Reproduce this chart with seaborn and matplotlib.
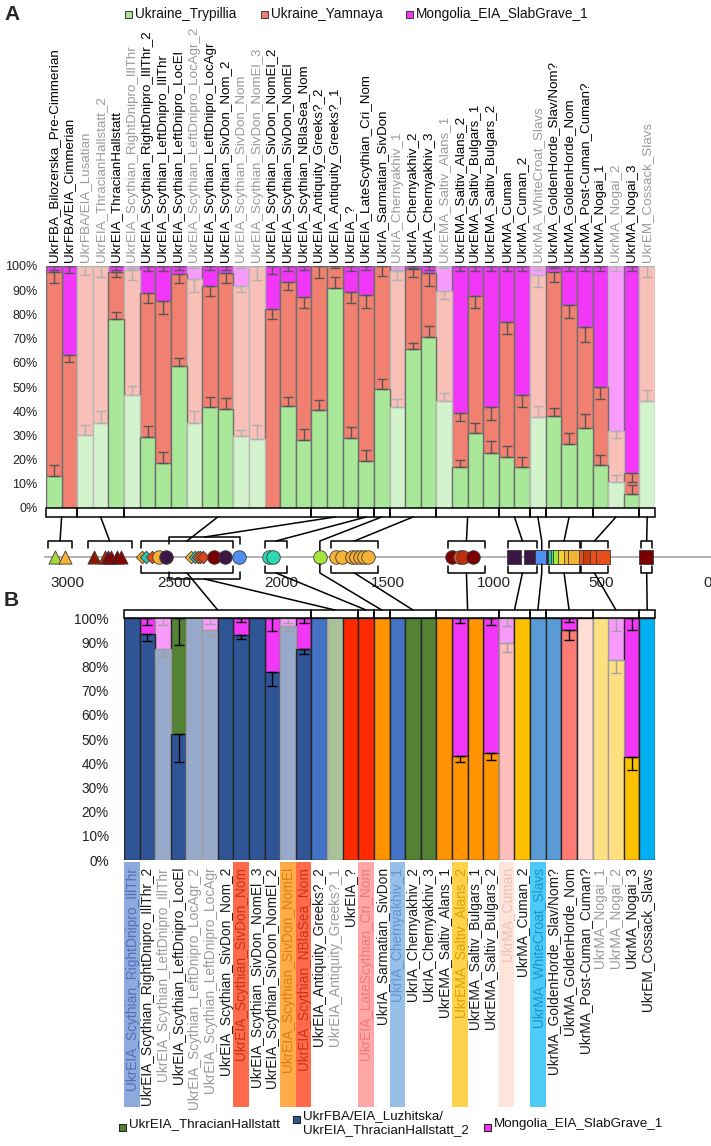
import numpy as np
import pandas as pd
import matplotlib
matplotlib.use("Agg")
import matplotlib.pyplot as plt
import seaborn as sns
from matplotlib.patches import Rectangle
from matplotlib.ticker import MultipleLocator, FuncFormatter
import matplotlib.colors as mcolors

# ======================= DATA =======================
# ---- Panel A : three-way qpAdm proportions (%) ----
a_pops = ["UkrFBA_Bilozerska_Pre-Cimmerian", "UkrFBA/EIA_Cimmerian", "UkrFBA/EIA_Lusatian",
          "UkrEIA_ThracianHallstatt_2", "UkrEIA_ThracianHallstatt", "UkrEIA_Scythian_RightDnipro_IllThr",
          "UkrEIA_Scythian_RightDnipro_IllThr_2", "UkrEIA_Scythian_LeftDnipro_IllThr",
          "UkrEIA_Scythian_LeftDnipro_LocEl", "UkrEIA_Scythian_LeftDnipro_LocAgr_2",
          "UkrEIA_Scythian_LeftDnipro_LocAgr", "UkrEIA_Scythian_SivDon_Nom_2", "UkrEIA_Scythian_SivDon_Nom",
          "UkrEIA_Scythian_SivDon_NomEl_3", "UkrEIA_Scythian_SivDon_NomEl_2", "UkrEIA_Scythian_SivDon_NomEl",
          "UkrEIA_Scythian_NBlaSea_Nom", "UkrEIA_Antiquity_Greeks?_2", "UkrEIA_Antiquity_Greeks?_1",
          "UkrEIA_?", "UkrEIA_LateScythian_Cri_Nom", "UkrIA_Sarmatian_SivDon", "UkrIA_Chernyakhiv_1",
          "UkrIA_Chernyakhiv_2", "UkrIA_Chernyakhiv_3", "UkrEMA_Saltiv_Alans_1", "UkrEMA_Saltiv_Alans_2",
          "UkrEMA_Saltiv_Bulgars_1", "UkrEMA_Saltiv_Bulgars_2", "UkrMA_Cuman", "UkrMA_Cuman_2",
          "UkrMA_WhiteCroat_Slavs", "UkrMA_GoldenHorde_Slav/Nom?", "UkrMA_GoldenHorde_Nom",
          "UkrMA_Post-Cuman_Cuman?", "UkrMA_Nogai_1", "UkrMA_Nogai_2", "UkrMA_Nogai_3", "UkrEM_Cossack_Slavs"]
a_faded = [0, 0, 1, 1, 0, 1, 0, 0, 0, 1, 0, 0, 1, 1, 0, 0, 0, 0, 0, 0, 0, 0, 1, 0, 0, 1, 0, 0, 0, 0,
           0, 1, 0, 0, 0, 0, 1, 0, 1]
a_trypillia = [13.2, 0.0, 30.1, 35.2, 78.1, 46.9, 29.4, 18.8, 58.5, 35.3, 41.7, 41.0, 29.8, 28.6, 0.0,
               42.3, 28.3, 40.3, 90.8, 29.0, 19.4, 49.1, 41.8, 65.7, 70.5, 44.4, 16.8, 30.8, 22.9, 21.2,
               17.1, 37.7, 38.1, 26.5, 33.1, 17.8, 10.8, 5.8, 44.1]
a_yamnaya = [84.2, 63.4, 69.9, 64.8, 19.3, 51.4, 59.6, 66.6, 38.3, 59.2, 50.0, 56.2, 62.1, 71.4, 82.3,
             51.2, 58.9, 59.7, 9.2, 60.1, 68.5, 50.9, 56.1, 32.9, 26.5, 45.3, 22.5, 56.6, 19.0, 55.5,
             29.4, 58.4, 59.3, 57.2, 41.8, 32.0, 21.2, 8.5, 55.9]
a_mongolia = [2.6, 36.6, 0.0, 0.0, 2.6, 1.7, 11.0, 14.6, 3.2, 5.5, 8.3, 2.8, 8.1, 0.0, 17.7, 6.5, 12.8,
              0.0, 0.0, 10.9, 12.1, 0.0, 2.1, 1.4, 3.0, 10.3, 60.7, 12.6, 58.1, 23.3, 53.5, 3.9, 2.6,
              16.3, 25.1, 50.2, 68.0, 85.7, 0.0]
a_err_trypillia = [4.4, 0, 4.4, 4.8, 3.0, 3.6, 4.4, 4.4, 3.6, 4.7, 4.0, 4.3, 2.6, 5.9, 0, 3.6, 4.3, 4.4,
                   4.8, 4.4, 4.4, 4.4, 3.4, 2.6, 4.8, 3.3, 3.2, 4.4, 4.8, 4.3, 4.0, 4.4, 3.4, 4.3, 5.7,
                   4.0, 3.0, 3.5, 4.6]
a_err_yamnaya = [4.5, 3.0, 3.7, 4.4, 2.0, 4.1, 4.4, 5.2, 4.0, 5.4, 4.1, 4.1, 2.6, 5.8, 4.4, 3.6, 4.7,
                 5.1, 1.0, 4.4, 5.2, 4.1, 3.7, 3.0, 5.2, 3.4, 3.4, 4.6, 5.4, 4.8, 4.7, 4.7, 3.9, 5.0,
                 6.5, 4.6, 2.9, 3.5, 4.4]
a_err_mongolia = [1.5, 2.8, 0, 0, 1.5, 1.0, 2.0, 2.0, 1.5, 1.0, 1.5, 1.5, 1.0, 0, 3.5, 2.0, 1.8, 0, 0,
                  2.0, 1.8, 0, 1.5, 1.0, 1.5, 1.0, 2.0, 2.0, 2.0, 2.0, 2.0, 1.5, 1.0, 2.0, 2.0, 2.0,
                  2.0, 2.0, 0]
a_sources = ["Ukraine_Trypillia", "Ukraine_Yamnaya", "Mongolia_EIA_SlabGrave_1"]

# ---- Panel B : two-way fits (%) ----
b_pops = ["UkrEIA_Scythian_RightDnipro_IllThr", "UkrEIA_Scythian_RightDnipro_IllThr_2",
          "UkrEIA_Scythian_LeftDnipro_IllThr", "UkrEIA_Scythian_LeftDnipro_LocEl",
          "UkrEIA_Scythian_LeftDnipro_LocAgr_2", "UkrEIA_Scythian_LeftDnipro_LocAgr",
          "UkrEIA_Scythian_SivDon_Nom_2", "UkrEIA_Scythian_SivDon_Nom", "UkrEIA_Scythian_SivDon_NomEl_3",
          "UkrEIA_Scythian_SivDon_NomEl_2", "UkrEIA_Scythian_SivDon_NomEl", "UkrEIA_Scythian_NBlaSea_Nom",
          "UkrEIA_Antiquity_Greeks?_2", "UkrEIA_Antiquity_Greeks?_1", "UkrEIA_?",
          "UkrEIA_LateScythian_Cri_Nom", "UkrIA_Sarmatian_SivDon", "UkrIA_Chernyakhiv_1",
          "UkrIA_Chernyakhiv_2", "UkrIA_Chernyakhiv_3", "UkrEMA_Saltiv_Alans_1", "UkrEMA_Saltiv_Alans_2",
          "UkrEMA_Saltiv_Bulgars_1", "UkrEMA_Saltiv_Bulgars_2", "UkrMA_Cuman", "UkrMA_Cuman_2",
          "UkrMA_WhiteCroat_Slavs", "UkrMA_GoldenHorde_Slav/Nom?", "UkrMA_GoldenHorde_Nom",
          "UkrMA_Post-Cuman_Cuman?", "UkrMA_Nogai_1", "UkrMA_Nogai_2", "UkrMA_Nogai_3",
          "UkrEM_Cossack_Slavs"]
b_faded = [0, 0, 1, 0, 1, 1, 0, 0, 0, 0, 1, 0, 0, 1, 0, 0, 0, 0, 0, 0, 0, 0, 0, 0, 1, 0, 0, 0, 0, 0,
           1, 1, 0, 0]
b_base = [100, 93.4, 87.2, 52.0, 100, 95.2, 100, 93.1, 100, 77.7, 96.6, 87.2, 100, 100, 100, 100, 100,
          100, 100, 100, 100, 43.0, 100, 44.4, 89.7, 100, 100, 100, 95.2, 100, 100, 82.8, 42.5, 100]
b_second = [0, 6.6, 12.8, 48.0, 0, 4.8, 0, 6.9, 0, 22.3, 3.4, 12.8, 0, 0, 0, 0, 0, 0, 0, 0, 0, 57.0, 0,
            55.6, 10.3, 0, 0, 0, 4.8, 0, 0, 17.2, 57.5, 0]
b_base_color = ["#2f5597"] * 12 + ["#4472c4", "#548235", "#ff2a00", "#ff2a00", "#ff9300", "#4472c4",
                                   "#548235", "#548235", "#ff9300", "#ff9300", "#ff9300", "#ff9300",
                                   "#ff7b76", "#ffc000", "#5b9bd5", "#5b9bd5", "#ff7b76", "#ffdcd4",
                                   "#ffc000", "#ffc000", "#ffc000", "#00b0f0"]
b_second_color = ["#f237f8"] * 3 + ["#548235"] + ["#f237f8"] * 30
b_err_base = [0, 2.8, 3.0, 11.6, 0, 2.8, 0, 1.8, 0, 5.9, 2.0, 2.0, 0, 0, 0, 0, 0, 0, 0, 0, 0, 2.3, 0,
              3.0, 3.9, 0, 0, 0, 4.1, 0, 0, 5.5, 5.2, 0]
b_err_second = [0, 2.8, 2.8, 11.3, 0, 2.3, 0, 1.8, 0, 5.5, 2.0, 2.0, 0, 0, 0, 0, 0, 0, 0, 0, 0, 2.0, 0,
                2.8, 3.4, 0, 0, 0, 1.5, 0, 0, 5.5, 4.8, 0]
b_label_color = ["#5070b8", "k", "#9a9a9a", "k", "#9a9a9a", "#9a9a9a", "k", "#c83418", "k", "k",
                 "#d9820f", "#c83418", "k", "#9a9a9a", "k", "#f07a7a", "k", "#5f95d3", "k", "k", "k",
                 "#dca000", "k", "k", "#f0bfb2", "k", "#1596cf", "k", "k", "k", "#9a9a9a", "#9a9a9a",
                 "k", "k"]
b_label_bg = ["#8eaadc", None, None, None, None, None, None, "#ff6a4c", None, None, "#ffac48",
              "#ff6a4c", None, None, None, "#ffa6a6", None, "#97bfe8", None, None, None, "#ffd24d",
              None, None, "#ffe4dc", None, "#4fc9f5", None, None, None, None, None, None, None]
b_legend = ["UkrEIA_ThracianHallstatt", "UkrFBA/EIA_Luzhitska/\nUkrEIA_ThracianHallstatt_2",
            "Mongolia_EIA_SlabGrave_1"]

# ---- Timeline (years BP) ----
tl_years = [3058, 3014,
            2874, 2824, 2810, 2796, 2768, 2749,
            2650, 2630, 2604, 2573, 2536,
            2420, 2403, 2390, 2378, 2365, 2314, 2264, 2198,
            2056, 2037, 1817,
            1742, 1715, 1668, 1650, 1630, 1612, 1593,
            1199, 1160, 1148, 1101,
            906, 826, 777, 726, 716, 703, 690, 668, 640, 623,
            571, 550, 520, 490, 286]
tl_marker = ["^", "^",
             "^", "^", "^", "^", "^", "^",
             "D", "D", "D", "o", "o",
             "D", "D", "D", "D", "D", "o", "o", "o",
             "o", "o", "o",
             "o", "o", "o", "o", "o", "o", "o",
             "o", "o", "o", "o",
             "s", "s", "s", "s", "s", "s", "s", "s", "s", "s",
             "s", "s", "s", "s", "s"]
tl_color = ["#a6d63a", "#f5b335",
            "#8b1a00", "#a52a00", "#7a0000", "#8b0000", "#7a0000", "#8b0000",
            "#f5a623", "#2ec4b6", "#e8501a", "#f5b335", "#3b1646",
            "#f5b335", "#2ec4b6", "#f28c28", "#e8501a", "#d9441c", "#7a0000", "#3b1646", "#4f8ff0",
            "#2ed8b0", "#2ed8b0", "#a6e63c",
            "#f5b335", "#f5b335", "#f0a830", "#f5b335", "#f0a830", "#f5b335", "#f5b335",
            "#7a0000", "#e8501a", "#c0300a", "#7a0000",
            "#3b1646", "#3b1646", "#4f8ff0", "#3b1646", "#19c9b0", "#5ed86a", "#a6e63c", "#f5d033",
            "#f5b335", "#f5b335",
            "#e8501a", "#c83c10", "#e8501a", "#e84e1b", "#7a0000"]
# bracket spans (years) above and below the time line
tl_top_spans = [(3090, 2980), (2905, 2700), (2655, 2225), (2525, 2190), (2075, 1970), (1765, 1545),
                (1215, 1045), (935, 800), (745, 600), (595, 465), (310, 260)]
tl_bot_spans = [(2655, 2225), (2525, 2190), (2075, 1970), (1765, 1545), (1215, 1045), (935, 800),
                (745, 600), (595, 465), (310, 260)]
# groups of bars (inclusive indices)
a_groups = [(0, 1), (2, 4), (5, 16), (17, 19), (20, 20), (21, 21), (22, 24), (25, 28), (29, 30),
            (31, 31), (32, 34), (35, 37), (38, 38)]
b_groups = [(0, 11), (12, 14), (15, 15), (16, 16), (17, 19), (20, 23), (24, 25), (26, 26), (27, 29),
            (30, 32), (33, 33)]
# A group -> timeline target (index into tl_top_spans, or a single year)
a_links = [("span", 0), ("span", 1), ("span", 2), ("span", 3), ("span", 4), ("year", 1817),
           ("span", 5), ("span", 6), ("span", 7), ("year", 777), ("span", 8), ("span", 9), ("span", 10)]
b_links = [("span", 0), ("span", 1), ("span", 2), ("year", 1817), ("span", 3), ("span", 4),
           ("span", 5), ("year", 777), ("span", 6), ("span", 7), ("span", 8)]

# ======================= STYLE =======================
sns.set_theme(style="white")
plt.rcParams["font.family"] = ["Liberation Sans", "DejaVu Sans"]

C_TRYP, C_YAMN, C_MONG = "#a8e898", "#f28070", "#f237f8"
EDGE_A, EDGE_B = "#6e6e6e", "#262626"


def fade(c, f=0.5):
    r = np.array(mcolors.to_rgb(c))
    return tuple(r * (1 - f) + f)


W, H = 711, 1146
fig = plt.figure(figsize=(W / 100, H / 100), dpi=100)


def fax(l, t, r, b, **kw):
    return fig.add_axes([l / W, 1 - b / H, (r - l) / W, (b - t) / H], **kw)


def to_px(ax, x, y):
    d = ax.transData.transform((x, y))
    return d[0], H - d[1]


def stacked(ax, names, layers, faded, edge, edge_f):
    """layers: list of (cumulative values, per-bar colours) from top to bottom"""
    for vals, cols in layers:
        n0 = len(ax.patches)
        sns.barplot(x=pd.Series(names), y=pd.Series(vals), color=cols[0], saturation=1, width=1.0,
                    errorbar=None, edgecolor=edge, linewidth=1.0, ax=ax)
        new = sorted(ax.patches[n0:], key=lambda p: p.get_x())
        for i, p in enumerate(new):
            if faded[i]:
                p.set_facecolor(fade(cols[i]))
                p.set_edgecolor(edge_f)
            else:
                p.set_facecolor(cols[i])


def errbars(ax, y, e, faded, up, col, colf):
    x = np.arange(len(y))
    y = np.asarray(y, float)
    e = np.asarray(e, float)
    fd = np.asarray(faded, bool)
    for fl, c in [(False, col), (True, colf)]:
        m = (fd == fl) & (e > 0)
        if not m.any():
            continue
        z = np.zeros(m.sum())
        yerr = [z, e[m]] if up else [e[m], z]
        ax.errorbar(x[m], y[m], yerr=yerr, fmt="none", ecolor=c, elinewidth=1.0, capsize=3.6,
                    capthick=1.0, zorder=5)


pct = FuncFormatter(lambda v, p: f"{int(v)}%")

# ======================= PANEL A =======================
ax_a = fax(46, 266, 655, 508)
ax_a.set_facecolor("none")
nA = len(a_pops)
lvl1 = np.array(a_trypillia)
lvl2 = lvl1 + np.array(a_yamnaya)
lvl3 = lvl2 + np.array(a_mongolia)
stacked(ax_a, a_pops, [(lvl3, [C_MONG] * nA), (lvl2, [C_YAMN] * nA), (lvl1, [C_TRYP] * nA)],
        a_faded, EDGE_A, "#b8b8b8")
errbars(ax_a, lvl1, a_err_trypillia, a_faded, True, "#555555", "#b0b0b0")
errbars(ax_a, lvl2, a_err_yamnaya, a_faded, False, "#555555", "#b0b0b0")
errbars(ax_a, lvl3, a_err_mongolia, a_faded, False, "#555555", "#b0b0b0")
ax_a.set_xlim(-0.5, nA - 0.5)
ax_a.set_ylim(0, 100)
ax_a.set_xlabel("")
ax_a.set_ylabel("")
ax_a.xaxis.tick_top()
ax_a.set_xticks(range(nA))
ax_a.set_xticklabels(a_pops, rotation=90, fontsize=9.6)
for lab, fd in zip(ax_a.get_xticklabels(), a_faded):
    lab.set_color("#9a9a9a" if fd else "black")
ax_a.set_yticks(range(0, 101, 10))
ax_a.yaxis.set_major_formatter(pct)
ax_a.tick_params(axis="x", length=0, pad=3)
ax_a.tick_params(axis="y", length=0, pad=6, labelsize=9, labelcolor="#222222")
for s in ax_a.spines.values():
    s.set_visible(False)

# ======================= PANEL B =======================
ax_b = fax(124, 618, 655, 860)
ax_b.set_facecolor("none")
nB = len(b_pops)
base = np.array(b_base, float)
tot = base + np.array(b_second, float)
stacked(ax_b, b_pops, [(tot, b_second_color), (base, b_base_color)], b_faded, EDGE_B, "#9c9c9c")
errbars(ax_b, base, b_err_base, b_faded, False, "black", "#a0a0a0")
errbars(ax_b, tot, b_err_second, b_faded, False, "black", "#a0a0a0")
ax_b.set_xlim(-0.5, nB - 0.5)
ax_b.set_ylim(0, 100)
ax_b.set_xlabel("")
ax_b.set_ylabel("")
ax_b.set_xticks(range(nB))
ax_b.set_xticklabels(b_pops, rotation=90, fontsize=9.9)
for lab, c in zip(ax_b.get_xticklabels(), b_label_color):
    lab.set_color(c)
ax_b.set_yticks(range(0, 101, 10))
ax_b.yaxis.set_major_formatter(pct)
ax_b.tick_params(axis="x", length=0, pad=5)
ax_b.tick_params(axis="y", length=0, pad=11, labelsize=9.8, labelcolor="#222222")
for s in ax_b.spines.values():
    s.set_visible(False)

# ======================= TIMELINE =======================
ax_t = fax(45, 547, 711, 567)
ax_t.set_facecolor("none")
ax_t.set_xlim(3105.5, -16.4)
ax_t.set_ylim(-1, 1)
for k in ["top", "left", "right"]:
    ax_t.spines[k].set_visible(False)
ax_t.spines["bottom"].set_position(("data", 0))
ax_t.spines["bottom"].set_color("#a6a6a6")
ax_t.spines["bottom"].set_linewidth(1.2)
ax_t.xaxis.set_major_locator(MultipleLocator(500))
ax_t.xaxis.set_minor_locator(MultipleLocator(100))
ax_t.tick_params(axis="x", which="both", direction="in", length=8, width=1, color="#a6a6a6",
                 labelsize=11, pad=14, labelcolor="#222222")
ax_t.set_yticks([])
tl_df = pd.DataFrame({"year": tl_years, "m": tl_marker, "c": tl_color})
sizes = {"^": 90, "D": 40, "o": 95, "s": 105}
for i, r in tl_df.iterrows():
    ax_t.scatter([r.year], [0.0], marker=r.m, s=sizes[r.m], color=r.c, edgecolors="#3a3a3a",
                 linewidths=0.6, zorder=3 + i * 0.01, clip_on=False)

# ======================= OVERLAY (brackets, connectors, legends) =======================
ax_bg = fig.add_axes([0, 0, 1, 1], zorder=-1)
ax_bg.set_xlim(0, W)
ax_bg.set_ylim(H, 0)
ax_bg.axis("off")

ax_o = fig.add_axes([0, 0, 1, 1], zorder=10)
ax_o.set_xlim(0, W)
ax_o.set_ylim(H, 0)
ax_o.axis("off")
ax_o.patch.set_visible(False)

LW = 1.1
_, a_bot = to_px(ax_a, 0, 0)
_, b_top = to_px(ax_b, 0, 100)
_, b_bot = to_px(ax_b, 0, 0)
A_BR_H, B_BR_H = 9, 8
TOP_Y, BOT_Y = 541, 573

# A bracket row
a_cent = []
for i0, i1 in a_groups:
    xl, _ = to_px(ax_a, i0 - 0.5, 0)
    xr, _ = to_px(ax_a, i1 + 0.5, 0)
    ax_o.add_patch(Rectangle((xl, a_bot), xr - xl, A_BR_H, fill=False, ec="black", lw=LW))
    a_cent.append((xl + xr) / 2)
# B bracket row
b_cent = []
for i0, i1 in b_groups:
    xl, _ = to_px(ax_b, i0 - 0.5, 0)
    xr, _ = to_px(ax_b, i1 + 0.5, 0)
    ax_o.add_patch(Rectangle((xl, b_top - B_BR_H), xr - xl, B_BR_H, fill=False, ec="black", lw=LW))
    b_cent.append((xl + xr) / 2)

yx = lambda yr: to_px(ax_t, yr, 0)[0]
_, line_y = to_px(ax_t, 0, 0)

top_mid = []
for k, (y0, y1) in enumerate(tl_top_spans):
    xl, xr = yx(y0), yx(y1)
    yt = TOP_Y - (4 if k == 3 else 0)
    ax_o.plot([xl, xl, xr, xr], [yt + 7, yt, yt, yt + 7], color="black", lw=LW)
    top_mid.append(((xl + xr) / 2, yt))
bot_mid = []
for k, (y0, y1) in enumerate(tl_bot_spans):
    xl, xr = yx(y0), yx(y1)
    yb = BOT_Y + (6 if k == 1 else 0)
    ax_o.plot([xl, xl, xr, xr], [yb - 7, yb, yb, yb - 7], color="black", lw=LW)
    bot_mid.append(((xl + xr) / 2, yb))

for xc, (kind, v) in zip(a_cent, a_links):
    if kind == "span":
        tx, ty = top_mid[v]
        ax_o.plot([xc, tx], [a_bot + A_BR_H, ty], color="black", lw=LW)
    else:
        tx = yx(v)
        ax_o.plot([xc, tx, tx], [a_bot + A_BR_H, TOP_Y, line_y - 7], color="black", lw=LW)

for xc, (kind, v) in zip(b_cent, b_links):
    if kind == "span":
        sx, sy = bot_mid[v]
        ax_o.plot([sx, xc], [sy, b_top - B_BR_H], color="black", lw=LW)
    else:
        sx = yx(v)
        ax_o.plot([sx, sx, xc], [line_y + 7, BOT_Y, b_top - B_BR_H], color="black", lw=LW)

# B label backgrounds
for i, bg in enumerate(b_label_bg):
    if bg is None:
        continue
    xl, _ = to_px(ax_b, i - 0.5, 0)
    xr, _ = to_px(ax_b, i + 0.5, 0)
    ax_bg.add_patch(Rectangle((xl, b_bot + 2), xr - xl, 245, color=bg, lw=0))

# Panel letters
ax_o.text(4, 14, "A", fontsize=15, fontweight="bold", va="center", ha="left")
ax_o.text(4, 601, "B", fontsize=15, fontweight="bold", va="center", ha="left")

# Legend A
for x0, lab, col in zip([125, 261, 406], a_sources, [C_TRYP, C_YAMN, C_MONG]):
    ax_o.add_patch(Rectangle((x0, 10.5), 7, 7, fc=col, ec="#444444", lw=0.8))
    ax_o.text(x0 + 10, 14, lab, fontsize=9.8, va="center", ha="left", color="#111111")

# Legend B
for x0, y0, lab, col in zip([119, 293, 484], [1127, 1119, 1127], b_legend,
                            ["#548235", "#2f5597", "#f237f8"]):
    ax_o.add_patch(Rectangle((x0, y0 - 3.5), 7, 7, fc=col, ec="#222222", lw=0.8))
    ax_o.text(x0 + 10, y0 - 9, lab, fontsize=9.6, va="top", ha="left", color="#111111",
              linespacing=1.25)

fig.savefig("out.png", dpi=100, facecolor="white")
